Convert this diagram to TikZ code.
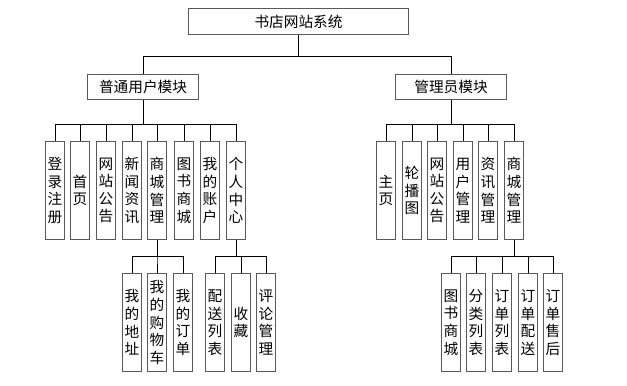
\documentclass[tikz,border=0pt]{standalone}
\usepackage{fontspec}
\newfontfamily\cjk{Noto Sans CJK SC}
\usetikzlibrary{calc}

\begin{document}
\begin{tikzpicture}[
  x=0.75pt,y=-0.75pt,
  box/.style={draw=black!65,line width=1.1pt,font=\cjk\fontsize{11}{13.2}\selectfont,inner sep=0pt,align=center},
  rootbox/.style={box,minimum width=165pt,minimum height=19.5pt},
  modbox/.style={box,minimum width=83pt,minimum height=18.8pt},
  leafbox/.style={box,minimum width=14.2pt,minimum height=73.5pt},
  link/.style={draw=black,line width=0.7pt},
]
\useasboundingbox (0,0) rectangle (627,385);

% top levels
\node[rootbox] (root) at (298.5,21.5) {书店网站系统};
\node[modbox] (user) at (143,87) {普通用户模块};
\node[modbox] (admin) at (451,87) {管理员模块};

% user module leaves
\foreach \nm/\x/\txt in {ua/55/{登\\录\\注\\册},ub/80/{首\\页},uc/106/{网\\站\\公\\告},
    ud/132/{新\\闻\\资\\讯},ue/157/{商\\城\\管\\理},uf/184/{图\\书\\商\\城},
    ug/210/{我\\的\\账\\户},uh/236/{个\\人\\中\\心}}
  \node[leafbox] (\nm) at (\x,190.5) {\txt};

% admin module leaves
\foreach \nm/\x/\txt in {aa/386/{主\\页},ab/412/{轮\\播\\图},ac/437/{网\\站\\公\\告},
    ad/463/{用\\户\\管\\理},ae/488/{资\\讯\\管\\理},af/514/{商\\城\\管\\理}}
  \node[leafbox] (\nm) at (\x,190.5) {\txt};

% third level
\foreach \nm/\x/\txt in {ea/132/{我\\的\\地\\址},eb/157/{我\\的\\购\\物\\车},ec/183/{我\\的\\订\\单},
    ha/215/{配\\送\\列\\表},hb/241/{收\\藏},hc/266/{评\\论\\管\\理},
    fa/451/{图\\书\\商\\城},fb/476/{分\\类\\列\\表},fc/502/{订\\单\\列\\表},
    fd/528/{订\\单\\配\\送},fe/553/{订\\单\\售\\后}}
  \node[leafbox] (\nm) at (\x,322.5) {\txt};

% bars
\coordinate (rbar) at (298.5,56);
\coordinate (ubar) at (143,124);
\coordinate (abar) at (451,124);
\coordinate (ebar) at (157,256);
\coordinate (hbar) at (236,256);
\coordinate (fbar) at (514,256);

% connectors
\foreach \ch in {user,admin}
  \draw[link] (root.south) -- (rbar) -| (\ch.north);
\foreach \ch in {ua,ub,uc,ud,ue,uf,ug,uh}
  \draw[link] (user.south) -- (ubar) -| (\ch.north);
\foreach \ch in {aa,ab,ac,ad,ae,af}
  \draw[link] (admin.south) -- (abar) -| (\ch.north);
\foreach \ch in {ea,eb,ec}
  \draw[link] (ue.south) -- (ebar) -| (\ch.north);
\foreach \ch in {ha,hb,hc}
  \draw[link] (uh.south) -- (hbar) -| (\ch.north);
\foreach \ch in {fa,fb,fc,fd,fe}
  \draw[link] (af.south) -- (fbar) -| (\ch.north);

\end{tikzpicture}
\end{document}
